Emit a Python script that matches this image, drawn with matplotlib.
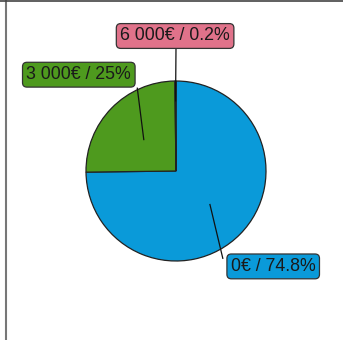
import matplotlib
matplotlib.use("Agg")
import matplotlib.pyplot as plt
from matplotlib.lines import Line2D
import numpy as np

labels = ["0€", "3 000€", "6 000€"]
shares = [74.8, 25.0, 0.2]
share_txt = ["74.8%", "25%", "0.2%"]
colors = ["#0a9ad9", "#4e9a1e", "#e0728a"]

# label box centres, leader end points on the box (data units, radius = 1)
label_pos = [(1.08, -1.06), (-1.08, 1.07), (-0.01, 1.50)]
leader_end = [(0.52, -0.97), (-0.43, 0.92), (0.0, 1.37)]
inner_r = [0.53, 0.5, 0.78]

fig = plt.figure(figsize=(3.43, 3.40), dpi=100)
ax = fig.add_axes([0, 0, 1, 1])

wedges, _ = ax.pie(shares, colors=colors, startangle=90, counterclock=False,
                   radius=1, wedgeprops=dict(edgecolor="#222222", linewidth=0.9))

# pie() resets the limits, so set them afterwards
ax.set_xlim(-176/90, (343-176)/90)
ax.set_ylim(-169/90, 171/90)
ax.set_aspect("equal")
ax.axis("off")

for w, lab, pct, pos, end, r in zip(wedges, labels, share_txt, label_pos, leader_end, inner_r):
    mid = np.deg2rad((w.theta1 + w.theta2) / 2)
    x0, y0 = r*np.cos(mid), r*np.sin(mid)
    ax.plot([x0, end[0]], [y0, end[1]], color="#111111", lw=0.9, zorder=3)
    ax.text(pos[0], pos[1], lab + " / " + pct,
            ha="center", va="center", fontsize=12.8, color="#1a1a1a",
            family="Liberation Sans", zorder=4,
            bbox=dict(boxstyle="round,pad=0.22,rounding_size=0.25",
                      fc=w.get_facecolor(), ec="#333333", lw=0.9))

# frame bits on the left and top
fig.add_artist(Line2D([5.5/343, 5.5/343], [0, 1], color="#777777", lw=1.5))
fig.add_artist(Line2D([0, 1], [339.5/340, 339.5/340], color="#444444", lw=1.2))

fig.savefig("out.png", dpi=100)
